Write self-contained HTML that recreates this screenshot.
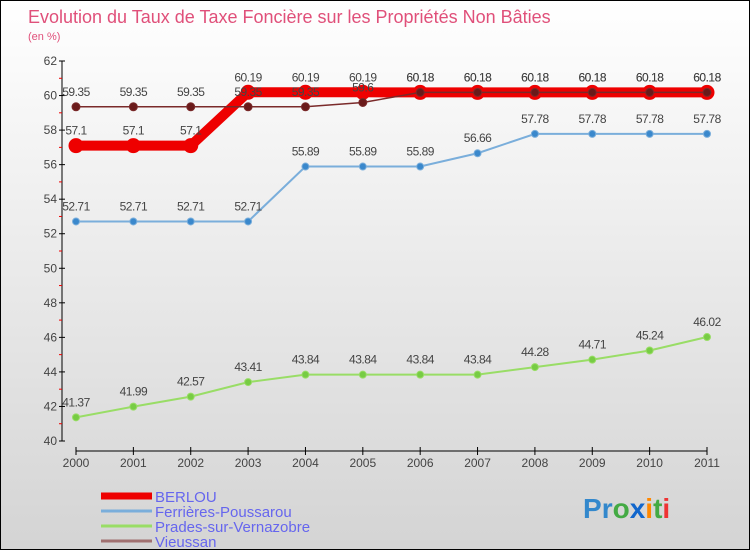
<!DOCTYPE html>
<html><head><meta charset="utf-8"><style>
body{margin:0}
#wrap{width:750px;height:550px;position:relative;overflow:hidden;box-sizing:border-box;border:1px solid #000;background:linear-gradient(#ffffff,#d4d4d4);font-family:"Liberation Sans",sans-serif}
</style></head><body>
<div id="wrap">
<svg id="svg" width="750" height="550" style="position:absolute;left:0;top:0"></svg>
</div>
<script>
const years=["2000","2001","2002","2003","2004","2005","2006","2007","2008","2009","2010","2011"];
const berlou=[57.1,57.1,57.1,60.19,60.19,60.19,60.18,60.18,60.18,60.18,60.18,60.18];
const ferrieres=[52.71,52.71,52.71,52.71,55.89,55.89,55.89,56.66,57.78,57.78,57.78,57.78];
const prades=[41.37,41.99,42.57,43.41,43.84,43.84,43.84,43.84,44.28,44.71,45.24,46.02];
const vieussan=[59.35,59.35,59.35,59.35,59.35,59.6,60.18,60.18,60.18,60.18,60.18,60.18];
const yTicks=[40,42,44,46,48,50,52,54,56,58,60,62];
const NS="http://www.w3.org/2000/svg";
const svg=document.getElementById('svg');
function X(i){return 75+i*(706-75)/11;}
function Y(v){return 440-(v-40)*(380/22);}
function el(t,a,txt){const e=document.createElementNS(NS,t);for(const k in a)e.setAttribute(k,a[k]);if(txt!==undefined)e.textContent=txt;svg.appendChild(e);return e;}
let e;
e=el('text',{x:27,y:22,'font-size':18,fill:'#e0507a'},'Evolution du Taux de Taxe Foncière sur les Propriétés Non Bâties');


e=el('text',{x:27,y:39,'font-size':11,fill:'#e0507a'},'(en %)');


e=el('line',{x1:61,y1:Y(62),x2:61,y2:Y(40),stroke:'#000'});


for(let v=41;v<62;v+=2){e=el('line',{x1:58,y1:Y(v),x2:61,y2:Y(v),stroke:'#e00'});}
yTicks.forEach(v=>{
 e=el('line',{x1:58,y1:Y(v),x2:64,y2:Y(v),stroke:'#000'});
 
 
 e=el('text',{x:56,y:Y(v)+4,'font-size':12,fill:'#444','text-anchor':'end'},String(v));
 
 
});
e=el('line',{x1:X(0),y1:450,x2:X(11),y2:450,stroke:'#000'});


years.forEach((y,i)=>{
 e=el('line',{x1:X(i),y1:446,x2:X(i),y2:454,stroke:'#000'});
 
 
 e=el('text',{x:X(i),y:466,'font-size':12,fill:'#444','text-anchor':'middle'},y);
 
 
});
function series(vals,color,w,r,fill,name){
 const pts=vals.map((v,i)=>X(i)+','+Y(v)).join(' ');
 e=el('polyline',{points:pts,fill:'none',stroke:color,'stroke-width':w});
 
 
 vals.forEach((v,i)=>{
  e=el('circle',{cx:X(i),cy:Y(v),r:r,fill:fill,stroke:color,'stroke-width':1});
  
  
  e=el('text',{x:X(i),y:Y(v)-11,'font-size':12,fill:'#444','text-anchor':'middle','letter-spacing':'-0.5'},String(v));
  
  
 });
}
series(prades,'#99dd66',2,3.5,'#77cc44','prades');
series(ferrieres,'#7aaedb',2,3.5,'#3a88cc','ferrieres');
series(berlou,'#ee0000',10,7,'#ee0000','berlou');
series(vieussan,'#7a2a2a',1.5,4,'#6a1a1a','vieussan');
const leg=[['BERLOU','#ee0000',7],['Ferrières-Poussarou','#7aaedb',3],['Prades-sur-Vernazobre','#99dd66',3],['Vieussan','#a07070',3]];
leg.forEach((l,i)=>{
 const y=493+i*15;
 e=el('line',{x1:100,y1:y+2,x2:151,y2:y+2,stroke:l[1],'stroke-width':l[2]});
 
 
 e=el('text',{x:154,y:y+8,'font-size':15,fill:'#6666ee'},l[0]);
 
 
});
e=el('text',{x:582,y:517,'font-size':28,'font-weight':'bold'},'');


[['P','#3388cc'],['r','#3388cc'],['o','#44aa44'],['x','#1166cc'],['i','#ff8800'],['t','#44aa44'],['i','#ee3333']].forEach(p=>{const s=document.createElementNS(NS,'tspan');s.setAttribute('fill',p[1]);s.textContent=p[0];e.appendChild(s);});
</script>
</body></html>
